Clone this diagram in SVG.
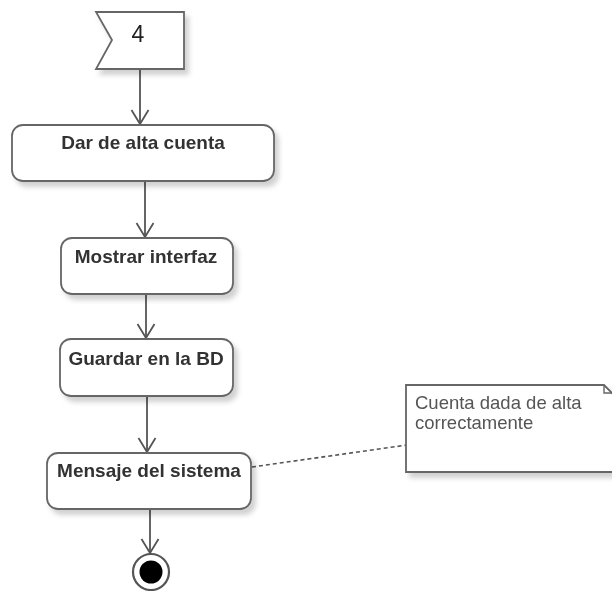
<svg xmlns="http://www.w3.org/2000/svg" width="612" height="591" viewBox="0 0 612 591">
  <defs>
    <filter id="shadow" x="-10%" y="-10%" width="130%" height="140%">
      <feDropShadow dx="4" dy="5" stdDeviation="2.5" flood-color="#000" flood-opacity="0.18"/>
    </filter>
    <marker id="open-arrow" viewBox="0 0 16 20" refX="15" refY="10" markerWidth="16" markerHeight="20" markerUnits="userSpaceOnUse" orient="auto">
      <path d="M1,1.5 L15,10 L1,18.5" fill="none" stroke="#555" stroke-width="1.8"/>
    </marker>
  </defs>
  <style>
    .shape { fill: #fff; stroke: #666; stroke-width: 1.8; }
    .label { font-family: "Liberation Sans", Arial, sans-serif; font-weight: bold; font-size: 19px; fill: #333; text-anchor: middle; }
    .flow { fill: none; stroke: #555; stroke-width: 1.8; marker-end: url(#open-arrow); }
    .anchor { fill: none; stroke: #555; stroke-width: 1.6; stroke-dasharray: 4 3; }
    .note-text { font-family: "Liberation Sans", Arial, sans-serif; font-size: 18.5px; fill: #555; }
  </style>

  <g id="connectors">
    <line class="flow" x1="140" y1="69" x2="140" y2="124"/>
    <line class="flow" x1="145" y1="182" x2="145" y2="237"/>
    <line class="flow" x1="146" y1="295" x2="146" y2="338"/>
    <line class="flow" x1="147" y1="397" x2="147" y2="452"/>
    <line class="flow" x1="150" y1="510" x2="150" y2="553"/>
    <line class="anchor" x1="252" y1="467" x2="407" y2="445"/>
  </g>

  <g id="signal-4" filter="url(#shadow)">
    <polygon class="shape" points="96,12 184,12 184,69 96,69 112,40"/>
    <text x="138" y="42" font-family="Liberation Sans, Arial, sans-serif" font-size="23" fill="#222" text-anchor="middle">4</text>
  </g>

  <g id="dar-de-alta-cuenta" filter="url(#shadow)">
    <rect class="shape" x="12" y="125" width="262" height="56" rx="11"/>
    <text class="label" x="143" y="149">Dar de alta cuenta</text>
  </g>

  <g id="mostrar-interfaz" filter="url(#shadow)">
    <rect class="shape" x="61" y="238" width="172" height="56" rx="11"/>
    <text class="label" x="146" y="263">Mostrar interfaz</text>
  </g>

  <g id="guardar-en-la-bd" filter="url(#shadow)">
    <rect class="shape" x="60" y="339" width="173" height="57" rx="11"/>
    <text class="label" x="146" y="365">Guardar en la BD</text>
  </g>

  <g id="mensaje-del-sistema" filter="url(#shadow)">
    <rect class="shape" x="47" y="453" width="204" height="56" rx="11"/>
    <text class="label" x="149" y="477">Mensaje del sistema</text>
  </g>

  <g id="final-node">
    <circle cx="151" cy="572" r="18" fill="#fff" stroke="#555" stroke-width="2.2"/>
    <circle cx="151" cy="572" r="11.5" fill="#000"/>
  </g>

  <g id="note" filter="url(#shadow)">
    <path class="shape" d="M406,385 H604 L616,397 V472 H406 Z"/>
    <path d="M604,385 V393 H616" fill="none" stroke="#666" stroke-width="1.4"/>
    <text class="note-text" x="415" y="409">Cuenta dada de alta</text>
    <text class="note-text" x="415" y="429">correctamente</text>
  </g>
</svg>
